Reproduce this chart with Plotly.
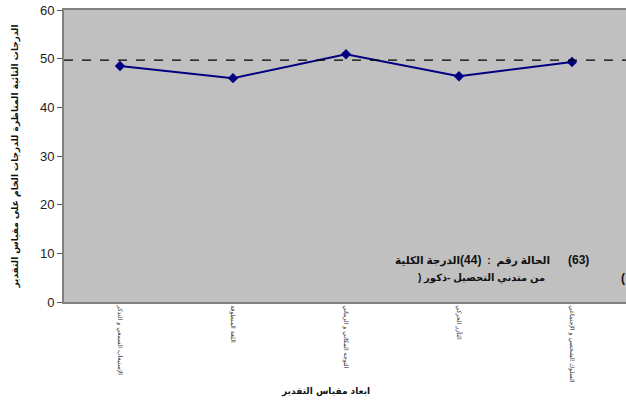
import plotly.graph_objects as go

# Scale dimensions and T-scores for the case
dimensions = [
    "الإستيعاب السمعي و التذكر",
    "اللغة المنطوقة",
    "التوجه المكاني و الزماني",
    "التآزر الحركي",
    "السلوك الشخصي و الإجتماعي",
]
t_scores = [48.5, 46.0, 50.9, 46.4, 49.3]
reference_score = 49.7
y_ticks = [0, 10, 20, 30, 40, 50, 60]

case_no = 44
total_score = 63

W, H = 626, 408
L, R, T, B = 64, 0, 10, 106
plot_w = W - L - R
plot_h = H - T - B

AR_FONT = "DejaVu Sans"
NUM_FONT = "Liberation Sans, Arial"
MIX_FONT = "Liberation Sans, DejaVu Sans"
RLM = "\u200f"
NB = "\u00a0"


def px(xp):
    return (xp - L) / plot_w


def py(yp):
    return (H - B - yp) / plot_h


fig = go.Figure()
fig.add_trace(go.Scatter(
    x=dimensions,
    y=t_scores,
    mode="lines+markers",
    line=dict(color="#000080", width=2),
    marker=dict(symbol="diamond", size=8, color="#000080"),
    showlegend=False,
    hoverinfo="y",
))

fig.add_shape(
    type="line", xref="paper", x0=0, x1=1, yref="y",
    y0=reference_score, y1=reference_score,
    line=dict(color="black", width=1.2, dash="dash"),
)

# Case note (right-to-left text)
line1 = ("الحالة رقم" + NB + " :" + NB + " <span style='font-size:12px'>("
         + str(case_no) + ")</span>" + "الدرجة الكلية")
line2 = "من متدني التحصيل -ذكور (" + RLM
notes = [
    # text, x (px), xanchor, centre y (px), font, size
    (line1, 551, "right", 260, MIX_FONT, 10.5),
    ("(" + str(total_score) + ")", 578, "center", 260, NUM_FONT, 12),
    (line2, 546, "right", 278, MIX_FONT, 10),
    ("(", 626, "right", 278, NUM_FONT, 12),
]
for text, xp, anchor, yc, fam, size in notes:
    fig.add_annotation(
        text="<b>" + text + "</b>", xref="paper", yref="paper",
        x=px(xp), y=py(yc), xanchor=anchor, yanchor="middle",
        showarrow=False, borderpad=0,
        font=dict(family=fam, size=size, color="#111111"),
    )

fig.add_annotation(
    text="<b>ابعاد مقياس التقدير</b>", xref="paper", yref="paper",
    x=px(325), y=py(391), xanchor="center", yanchor="middle",
    showarrow=False, font=dict(family=AR_FONT, size=9, color="#111111"),
)

fig.update_layout(
    width=W, height=H,
    margin=dict(l=L, r=R, t=T, b=B),
    paper_bgcolor="white",
    plot_bgcolor="#c0c0c0",
    font=dict(family=NUM_FONT, color="#111111"),
    xaxis=dict(
        type="category",
        range=[-0.4956, 4.478],
        showgrid=False, zeroline=False,
        showline=True, linecolor="#808080", linewidth=2, mirror=True,
        ticks="", tickangle=90,
        tickfont=dict(family=AR_FONT, size=6.2, color="#333333"),
    ),
    yaxis=dict(
        range=[0, 60], tickvals=y_ticks,
        showgrid=False, zeroline=False,
        showline=True, linecolor="#808080", linewidth=2, mirror=False,
        ticks="outside", ticklen=5, tickcolor="#555555",
        tickfont=dict(family=NUM_FONT, size=13, color="#222222"),
        title=dict(
            text="<b>الدرجات التائية المناظرة للدرجات الخام على مقياس التقدير</b>",
            font=dict(family=AR_FONT, size=9, color="#111111"),
            standoff=20,
        ),
    ),
)

fig.write_html("out.html")
